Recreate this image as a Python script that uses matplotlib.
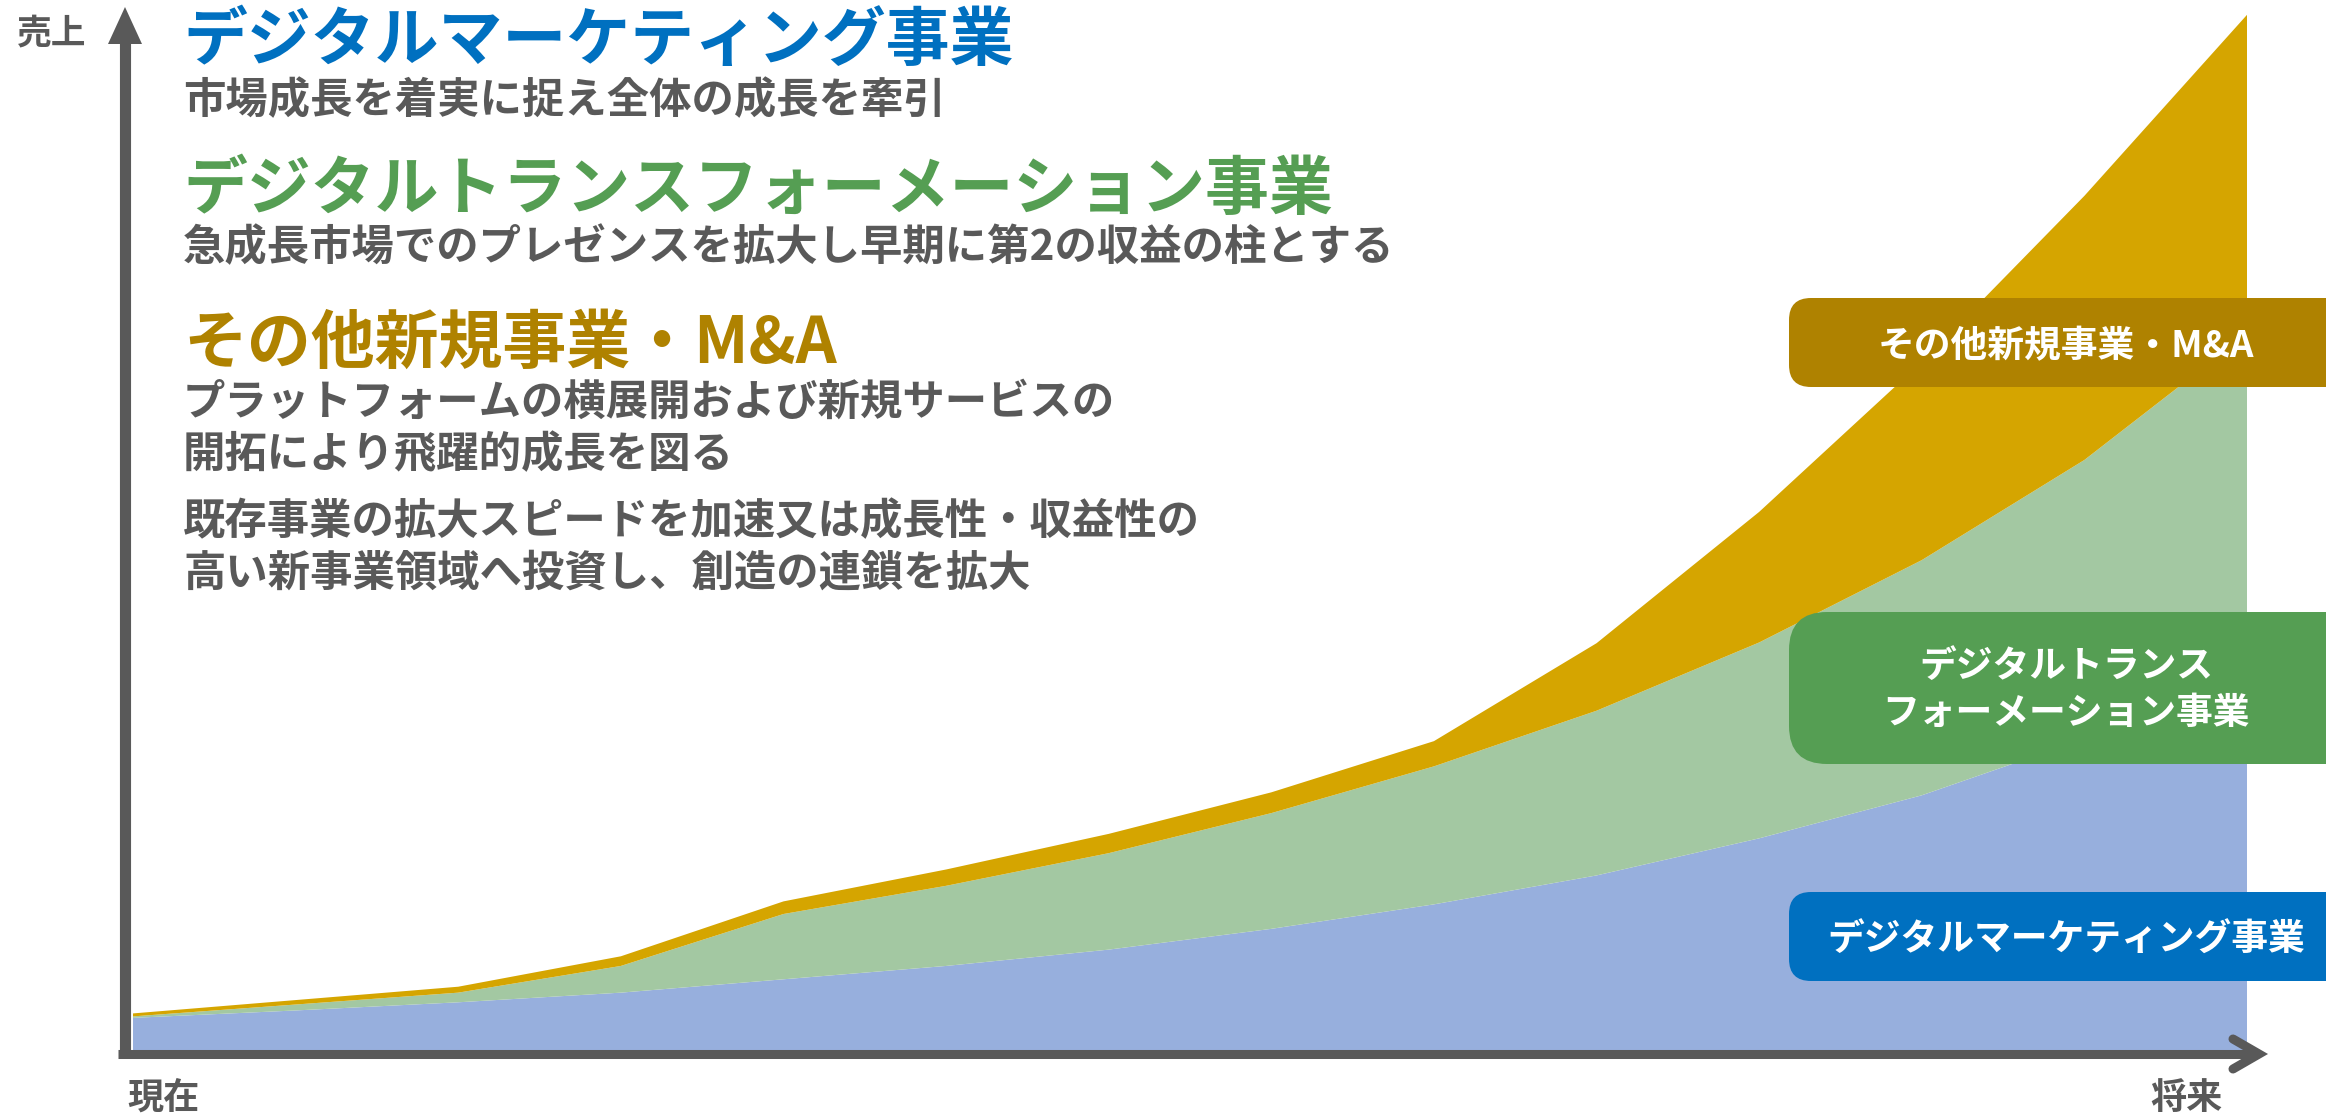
import matplotlib.pyplot as plt
from matplotlib.patches import FancyBboxPatch, Polygon

plt.rcParams["font.family"] = ["Noto Sans CJK JP", "DejaVu Sans"]

# sales by segment over time (stacked layers)
periods = list(range(14))
marketing = [23, 28, 33.5, 40, 49, 58, 69, 83, 99.5, 119, 144, 173, 211, 255]
transformation = [1, 4, 6.5, 18, 44, 54, 65, 78, 93, 111, 132, 158.5, 188, 229]
new_business = [2, 3, 4, 6.5, 8.5, 11, 13, 14, 17, 45.5, 88, 133.5, 178, 215]

segment_labels = ["デジタルマーケティング事業",
                  "デジタルトランス\nフォーメーション事業",
                  "その他新規事業・M&A"]
fill_colors = ["#97AFDD", "#A3C8A2", "#D5A500"]
box_colors = ["#0070C0", "#559E53", "#AF8200"]
axis_color = "#595959"

W, H = 2326, 1116
fig = plt.figure(figsize=(W / 100, H / 100), dpi=100)

# stacked area
ax = fig.add_axes([133 / W, 64 / H, (2247 - 133) / W, 1052 / H])
ax.stackplot(periods, marketing, transformation, new_business,
             colors=fill_colors, linewidth=0)
ax.set_xlim(0, 13)
ax.set_ylim(0, 709)
ax.axis("off")

# overlay in pixel units for arrows, boxes and text
ov = fig.add_axes([0, 0, 1, 1])
ov.set_xlim(0, W)
ov.set_ylim(H, 0)
ov.axis("off")

# y axis with filled arrow head
ov.plot([125, 125], [1058, 40], color=axis_color, lw=8, solid_capstyle="butt")
ov.add_patch(Polygon([(108, 44), (142, 44), (125, 7)], closed=True,
                     color=axis_color, lw=0))
# x axis with open chevron
ov.plot([118, 2256], [1054, 1054], color=axis_color, lw=6.5,
        solid_capstyle="butt")
ov.plot([2233, 2259, 2233], [1039, 1054, 1069], color=axis_color, lw=6.5,
        solid_capstyle="round", solid_joinstyle="miter")

ov.text(52, 33, "売上", ha="center", va="center", fontsize=25,
        fontweight="bold", color=axis_color)
ov.text(163, 1098, "現在", ha="center", va="center", fontsize=26,
        fontweight="bold", color=axis_color)
ov.text(2186, 1098, "将来", ha="center", va="center", fontsize=26,
        fontweight="bold", color=axis_color)

# segment label boxes on the right
boxes = [(892, 89, 22), (612, 152, 38), (298, 89, 22)]
text_y = [[940], [666, 713], [347]]
for (top, h, r), color, label, ys in zip(boxes, box_colors, segment_labels, text_y):
    ov.add_patch(FancyBboxPatch((1789, top), 700, h,
                                boxstyle=f"round,pad=0,rounding_size={r}",
                                facecolor=color, edgecolor="none"))
    for line, y in zip(label.split("\n"), ys):
        ov.text(2066, y, line, ha="center", va="center", fontsize=26.5,
                fontweight="bold", color="white")

# headline descriptions
gray = "#595959"
headlines = [
    (41, "デジタルマーケティング事業", box_colors[0], 46),
    (101, "市場成長を着実に捉え全体の成長を牽引", gray, 30.5),
    (190, "デジタルトランスフォーメーション事業", box_colors[1], 46),
    (248, "急成長市場でのプレゼンスを拡大し早期に第2の収益の柱とする", gray, 30.5),
    (344, "その他新規事業・M&A", box_colors[2], 46),
    (403, "プラットフォームの横展開および新規サービスの", gray, 30.5),
    (455, "開拓により飛躍的成長を図る", gray, 30.5),
    (522, "既存事業の拡大スピードを加速又は成長性・収益性の", gray, 30.5),
    (574, "高い新事業領域へ投資し、創造の連鎖を拡大", gray, 30.5),
]
for y, s, color, size in headlines:
    ov.text(183, y, s, ha="left", va="center", fontsize=size,
            fontweight="bold", color=color)

fig.savefig("out.png", dpi=100)
